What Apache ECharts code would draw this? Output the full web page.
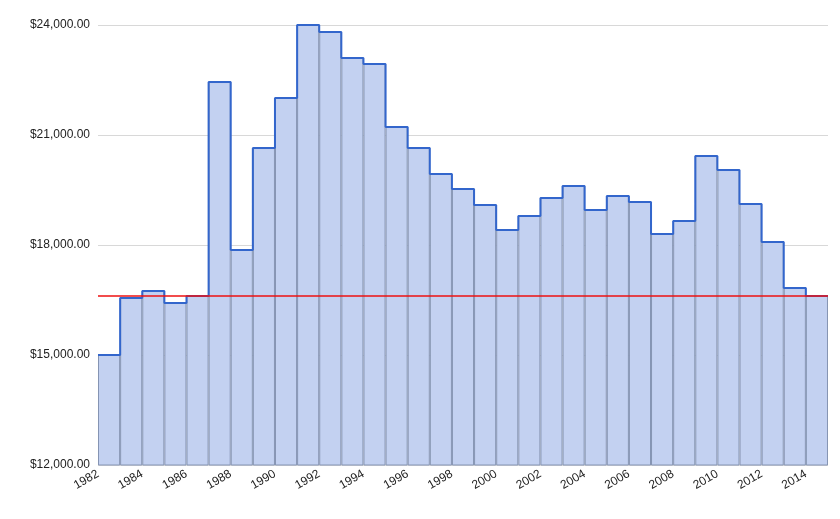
<!DOCTYPE html>
<html>
<head>
<meta charset="utf-8">
<script src="https://cdn.jsdelivr.net/npm/echarts@6/dist/echarts.min.js"></script>
<style>html,body{margin:0;padding:0;background:#fff}#container{width:840px;height:519px}</style>
</head>
<body>
<div id="container"></div>
<script>
// one value per year, bar spans [year, year+1]
var years = [1982,1983,1984,1985,1986,1987,1988,1989,1990,1991,1992,1993,1994,1995,1996,1997,1998,1999,2000,2001,2002,2003,2004,2005,2006,2007,2008,2009,2010,2011,2012,2013,2014];
var values = [15000,16555,16745,16418,16610,22445,17864,20645,22009,24000,23809,23100,22936,21218,20645,19936,19527,19091,18409,18791,19282,19609,18955,19336,19173,18300,18655,20427,20045,19118,18082,16827,16610];
var refLine = 16610;

var barData = [];
var stepData = [];
for (var i = 0; i < years.length; i++) {
    barData.push([years[i] + 0.5, values[i]]);
    stepData.push([years[i], values[i]]);
}
stepData.push([years[years.length - 1] + 1, values[values.length - 1]]);

function money(v) {
    return '$' + v.toLocaleString('en-US', {minimumFractionDigits: 2, maximumFractionDigits: 2});
}

var myChart = echarts.init(document.getElementById('container'));
myChart.setOption({
    animation: false,
    grid: {left: 98, right: 12, top: 25, bottom: 54},
    xAxis: {
        type: 'value', min: 1982, max: 2015, interval: 2,
        axisLine: {show: false}, axisTick: {show: false}, splitLine: {show: false},
        axisLabel: {
            rotate: 30, color: '#222', fontSize: 12, fontFamily: 'Arial, Liberation Sans',
            formatter: function (v) { return v <= 2014 ? String(v) : ''; }
        }
    },
    yAxis: {
        type: 'value', min: 12000, max: 24000, interval: 3000,
        axisLine: {show: false}, axisTick: {show: false},
        splitLine: {lineStyle: {color: '#d8d8d8'}},
        axisLabel: {formatter: money, color: '#222', fontSize: 12, fontFamily: 'Arial, Liberation Sans'}
    },
    series: [
        {
            type: 'bar', data: barData, barWidth: 22.1, barGap: '-100%',
            itemStyle: {color: '#c3d1f1', borderColor: '#8594b3', borderWidth: 1},
            silent: true
        },
        {
            type: 'line', data: stepData, step: 'end', symbol: 'none',
            lineStyle: {color: '#3366cc', width: 2},
            markLine: {
                symbol: 'none', silent: true, label: {show: false},
                lineStyle: {color: '#ee1111', width: 1.5, type: 'solid'},
                data: [{yAxis: refLine}]
            }
        }
    ]
});
</script>
</body>
</html>
